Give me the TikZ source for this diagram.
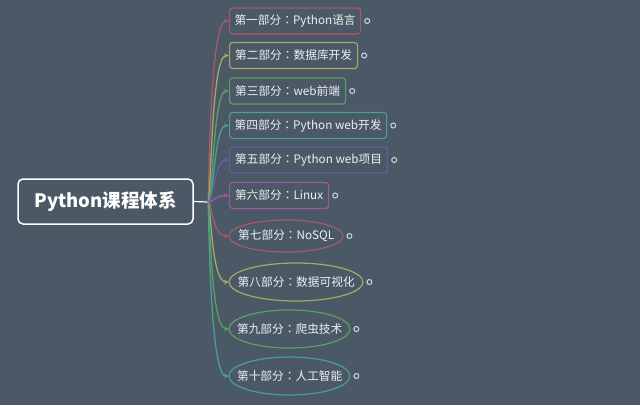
\documentclass[tikz,border=0pt]{standalone}
\usepackage{fontspec}
\setmainfont{Noto Sans CJK SC}
\newfontfamily\tcfont{Noto Sans CJK TC}
\newcommand{\colonmark}{{\tcfont ：}}
\usetikzlibrary{arrows.meta,shapes.geometric}
\definecolor{bg}{HTML}{4B5865}
\definecolor{txt}{HTML}{EEF0F2}
\definecolor{ca}{HTML}{A85A6A}
\definecolor{cb}{HTML}{A8A865}
\definecolor{cc}{HTML}{5FA05F}
\definecolor{cd}{HTML}{4AA096}
\definecolor{ce}{HTML}{5A64A0}
\definecolor{cf}{HTML}{A05AA5}
\definecolor{dot}{HTML}{C8D8EC}
\tikzset{
  boxnode/.style={draw=#1, line width=1.2pt, rounded corners=3pt, fill=bg,
    text=txt, font=\fontsize{11.7}{14}\selectfont, anchor=west, minimum height=26pt, inner sep=2pt},
  ellnode/.style={text=txt, font=\fontsize{11.7}{14}\selectfont, anchor=west, inner sep=0pt},
  ellline/.style={draw=#1, line width=1.2pt, fill=bg},
  conn/.style={draw=#1, line width=1.3pt, -{Stealth[length=5pt,width=4.5pt]}},
  enddot/.style={circle, draw=dot, line width=1pt, fill=bg, minimum size=5pt, inner sep=0pt},
}
\begin{document}
\begin{tikzpicture}[x=1pt,y=-1pt]
\useasboundingbox[fill=bg] (0,0) rectangle (640,405);
\node[draw=white, line width=1.5pt, rounded corners=5pt, fill=bg, text=white,
  font=\bfseries\fontsize{18.5}{20}\selectfont, minimum width=175pt, minimum height=45pt]
  (root) at (105.5,201.5) {Python课程体系};
\coordinate (split) at (208,202);
\draw[white, line width=1.2pt] (root.east) -- (split);

\node[boxnode=ca, minimum width=131pt] (n1) at (229,21) {第一部分\colonmark Python语言};
\node[boxnode=cb, minimum width=128pt] (n2) at (229,55.5) {第二部分\colonmark 数据库开发};
\node[boxnode=cc, minimum width=116pt] (n3) at (229,91) {第三部分\colonmark web前端};
\node[boxnode=cd, minimum width=157pt] (n4) at (229,125.5) {第四部分\colonmark Python web开发};
\node[boxnode=ce, minimum width=158pt] (n5) at (229,160) {第五部分\colonmark Python web项目};
\node[boxnode=cf, minimum width=99pt] (n6) at (229,195.5) {第六部分\colonmark Linux};

\foreach \n/\c/\yy/\w/\h/\t in {n7/ca/236/114/32/{第七部分\colonmark NoSQL},
  n8/cb/282/134/38/{第八部分\colonmark 数据可视化},
  n9/cc/329/121/38/{第九部分\colonmark 爬虫技术},
  n10/cd/376/121/38/{第十部分\colonmark 人工智能}}{
  \filldraw[ellline=\c] (229+\w/2,\yy) ellipse [x radius=\w/2, y radius=\h/2];
  \node[ellnode, minimum width=\w pt, minimum height=\h pt] (\n) at (229,\yy) {\t};
}

\foreach \n/\c/\yy/\xx in {n1/ca/21/209,n2/cb/55.5/211,n3/cc/91/213,n4/cd/125.5/214,n5/ce/160/214,
  n6/cf/195.5/214,n7/ca/236/212,n8/cb/282/211,n9/cc/329/210,n10/cd/376/209}{
  \draw[conn=\c] (split) .. controls (\xx,202) and (\xx,\yy) .. (\n.west);
  \node[enddot] at ([xshift=6pt]\n.east) {};
}
\end{tikzpicture}
\end{document}
